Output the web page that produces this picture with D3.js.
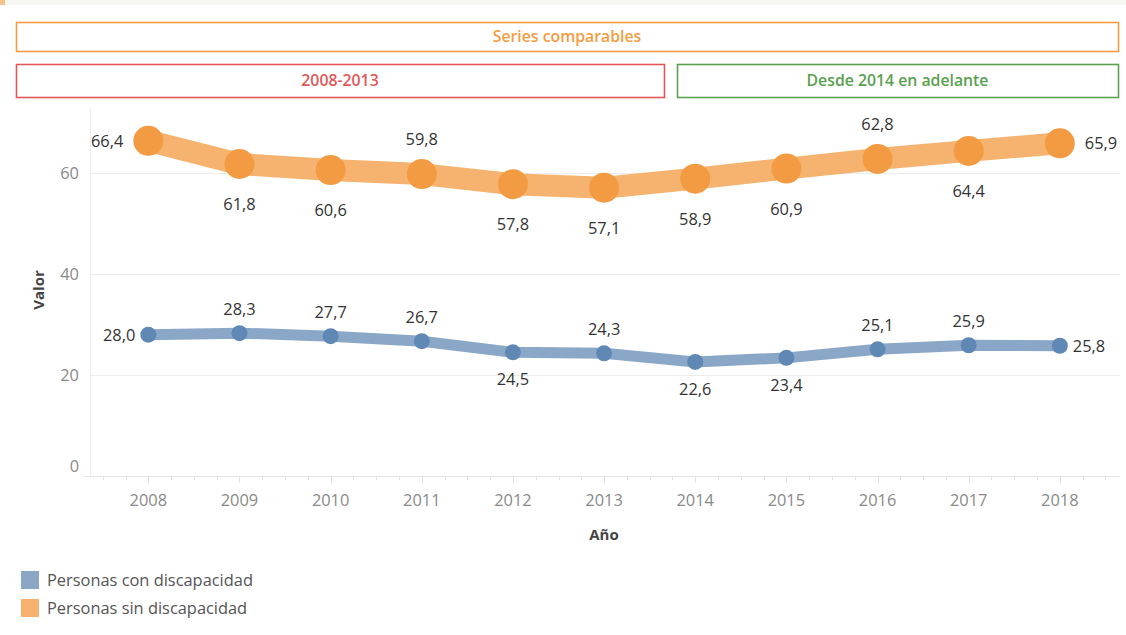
<!DOCTYPE html>
<html><head><meta charset="utf-8">
<script src="https://cdn.jsdelivr.net/npm/d3@7"></script>
<style>
body{margin:0;background:#fff;}
svg{display:block;font-family:"Open Sans","Noto Sans",sans-serif;}
</style></head>
<body><svg id="chart" width="1126" height="635"></svg>
<script>
const years = [2008,2009,2010,2011,2012,2013,2014,2015,2016,2017,2018];
const conDiscapacidad = [28.0,28.3,27.7,26.7,24.5,24.3,22.6,23.4,25.1,25.9,25.8];
const sinDiscapacidad = [66.4,61.8,60.6,59.8,57.8,57.1,58.9,60.9,62.8,64.4,65.9];
const seriesNames = ["Personas con discapacidad","Personas sin discapacidad"];
const yTicks = [0,20,40,60];
const headerTop = "Series comparables";
const headerPeriods = ["2008-2013","Desde 2014 en adelante"];

// label placement (style config)
const conPlacement = ["left","above","above","above","below","above","below","below","above","above","right"];
const sinPlacement = ["left","below","below","above","below","below","below","below","above","below","right"];

const svg = d3.select("#chart");
const fmt = v => d3.format(".1f")(v).replace(".", ",");
const FS = 16.4;

// top strip
svg.append("rect").attr("x",0).attr("y",0).attr("width",1126).attr("height",5).attr("fill","#f8f6f0");
svg.append("rect").attr("x",0).attr("y",0).attr("width",5).attr("height",5).attr("fill","#f6c48a");

// headers
function box(x,y,w,h,color,text){
  svg.append("rect").attr("x",x+0.5).attr("y",y+0.5).attr("width",w).attr("height",h)
    .attr("fill","none").attr("stroke",color).attr("stroke-width",1.6);
  svg.append("text").attr("x",x+w/2).attr("y",y+h/2+5.5).attr("text-anchor","middle")
    .attr("fill",color).attr("font-size",15.8).attr("font-weight",600).text(text);
}
box(16,22,1102,29,"#f59c42",headerTop);
box(16,64,648,33,"#e15759",headerPeriods[0]);
box(677,64,441,33,"#59a14f",headerPeriods[1]);

const x = d3.scaleLinear().domain([2007.36,2018.66]).range([90,1120]);
const y = d3.scaleLinear().domain([0,72.5]).range([476,110]);

// grid
svg.append("g").selectAll("line").data(yTicks.filter(d=>d>0)).join("line")
  .attr("x1",90).attr("x2",1120).attr("y1",d=>y(d)+0.5).attr("y2",d=>y(d)+0.5)
  .attr("stroke","#ececec").attr("stroke-width",1);
svg.append("line").attr("x1",90.5).attr("x2",90.5).attr("y1",108).attr("y2",476).attr("stroke","#eeeeee");
svg.append("line").attr("x1",83).attr("x2",1120).attr("y1",476.5).attr("y2",476.5).attr("stroke","#e6e6e6");

// y tick labels
svg.append("g").selectAll("text").data(yTicks).join("text")
  .attr("x",79).attr("y",d=> d===0 ? y(d)-4 : y(d)+6).attr("text-anchor","end")
  .attr("fill","#8a8a8a").attr("font-size",FS).text(d=>d);

// x minor ticks
const quarters = d3.range(2007.5, 2018.6, 0.25);
svg.append("g").selectAll("line").data(quarters).join("line")
  .attr("x1",d=>Math.round(x(d))+0.5).attr("x2",d=>Math.round(x(d))+0.5)
  .attr("y1",477).attr("y2",d=> Math.abs(d-Math.round(d))<1e-6 ? 483 : 480)
  .attr("stroke","#e2e2e2");
svg.append("g").selectAll("text").data(years).join("text")
  .attr("x",d=>x(d)).attr("y",506).attr("text-anchor","middle")
  .attr("fill","#8a8a8a").attr("font-size",FS).text(d=>d);

// axis titles
svg.append("text").attr("x",604).attr("y",540).attr("text-anchor","middle")
  .attr("fill","#444").attr("font-size",15).attr("font-weight",700).text("Año");
svg.append("text").attr("transform","translate(44,290) rotate(-90)").attr("text-anchor","middle")
  .attr("fill","#444").attr("font-size",15).attr("font-weight",700).text("Valor");

const line = d3.line().x((d,i)=>x(years[i])).y(d=>y(d));

function drawSeries(vals, lineColor, dotColor, lw, r, placement, offA, offB, offSide){
  svg.append("path").datum(vals).attr("d",line).attr("fill","none")
    .attr("stroke",lineColor).attr("stroke-width",lw).attr("stroke-linejoin","round");
  svg.append("g").selectAll("circle").data(vals).join("circle")
    .attr("cx",(d,i)=>x(years[i])).attr("cy",d=>y(d)).attr("r",r).attr("fill",dotColor);
  svg.append("g").selectAll("text").data(vals).join("text")
    .attr("x",(d,i)=>{
      const p=placement[i], cx=x(years[i]);
      return p==="left"? cx-offSide : p==="right"? cx+offSide : cx;
    })
    .attr("y",(d,i)=>{
      const p=placement[i], cy=y(d);
      return (p==="above"? cy-offA : p==="below"? cy+offB : cy) + 6;
    })
    .attr("text-anchor",(d,i)=> placement[i]==="left"?"end":placement[i]==="right"?"start":"middle")
    .attr("fill","#333").attr("font-size",FS).text(d=>fmt(d));
}
drawSeries(conDiscapacidad,"#8ba7c7","#5f88b4",11,8,conPlacement,24,27,13);
drawSeries(sinDiscapacidad,"#f6b36f","#f39b42",22,15,sinPlacement,35,40,25);

// legend
const legColors = ["#8ba7c7","#f7b16f"];
const leg = svg.append("g").selectAll("g").data(seriesNames).join("g")
  .attr("transform",(d,i)=>`translate(21,${571+i*28})`);
leg.append("rect").attr("width",18).attr("height",18).attr("fill",(d,i)=>legColors[i]);
leg.append("text").attr("x",26).attr("y",15).attr("fill","#555").attr("font-size",FS).text(d=>d);
</script></body></html>
